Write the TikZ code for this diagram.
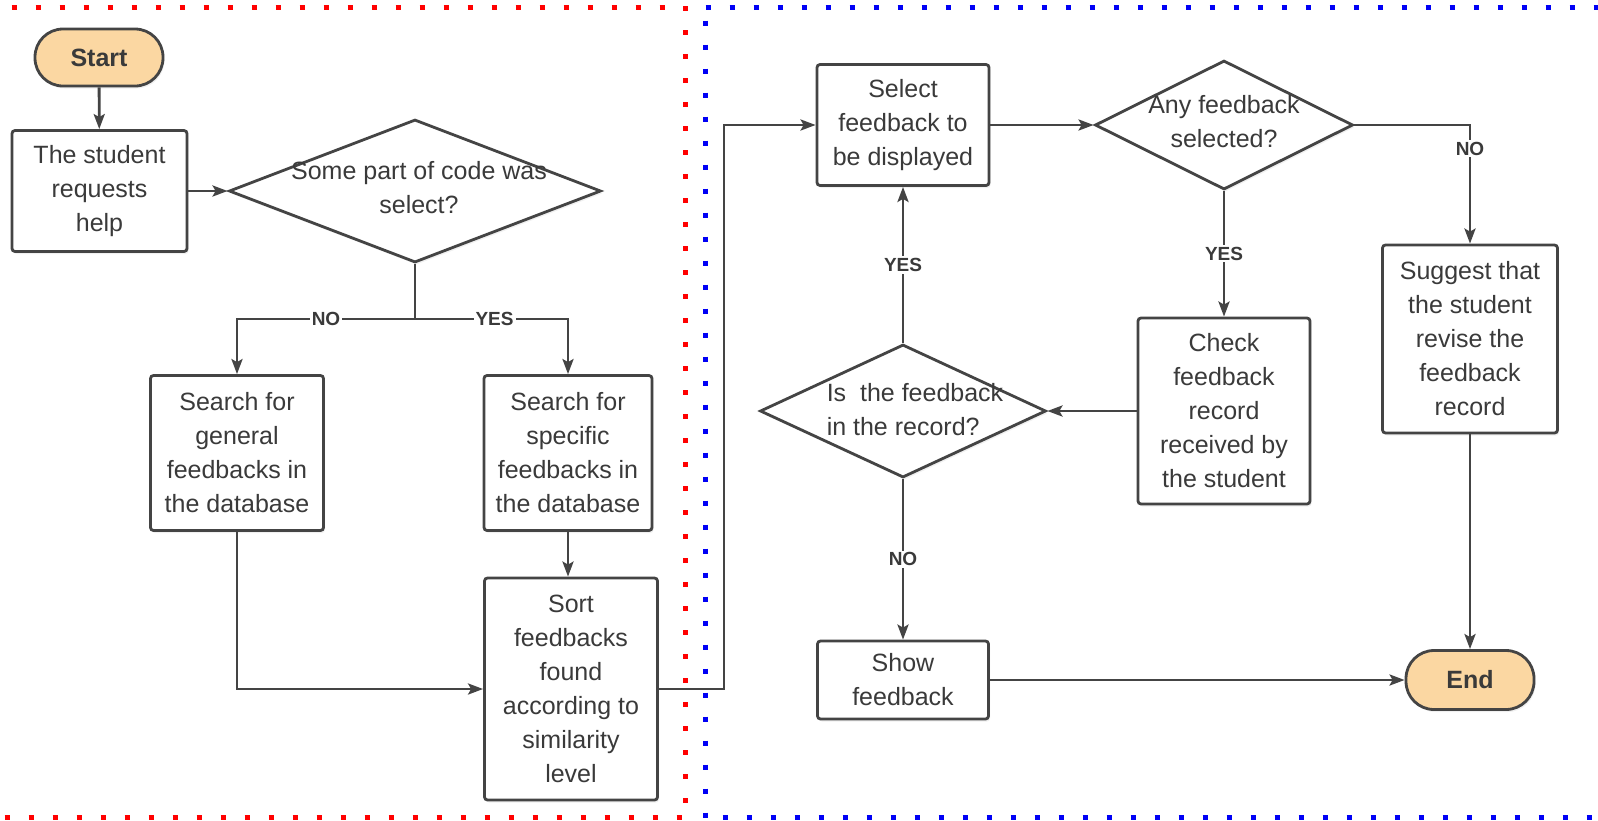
\documentclass[tikz,border=0pt]{standalone}
\usepackage{fontspec}
\setmainfont{Liberation Sans}
\usetikzlibrary{arrows.meta,shapes.geometric,shadows}

\definecolor{ink}{HTML}{3A3A3A}
\definecolor{edge}{HTML}{444444}
\definecolor{termfill}{HTML}{FBD7A2}
\definecolor{dotred}{HTML}{FF0000}
\definecolor{dotblue}{HTML}{0000F5}

\tikzset{
  base/.style={draw=edge, line width=2.8pt, text=ink,
    font=\fontsize{25}{34}\selectfont, align=center, inner sep=0pt,
    drop shadow={shadow xshift=1.5pt, shadow yshift=-2.5pt, opacity=0.12}},
  procbox/.style={base, fill=white, rectangle, rounded corners=3pt},
  termbox/.style={base, fill=termfill, rectangle, rounded corners=28pt,
    font=\fontsize{25}{30}\selectfont\bfseries},
  decision/.style={base, fill=white, diamond},
  dtext/.style={text=ink, font=\fontsize{25}{34}\selectfont, inner sep=0pt},
  flow/.style={draw=edge, line width=2.8pt,
    -{Stealth[length=15pt, width=11pt, inset=3pt]}},
  plain/.style={draw=edge, line width=2.8pt},
  lbl/.style={fill=white, text=ink, inner sep=2pt,
    font=\fontsize{19}{22}\selectfont\bfseries},
  dotline/.style={line width=5pt, dash pattern=on 5pt off 19pt}
}

\begin{document}
\begin{tikzpicture}[x=1pt, y=-1pt]
\useasboundingbox (0,0) rectangle (1598,820);

% dotted frames of the two regions
\draw[dotline, dotred] (11.5,7) -- (665,7);
\draw[dotline, dotred] (685,6.2) -- (685,805);
\draw[dotline, dotred] (4.5,817.5) -- (682,817.5);
\draw[dotline, dotblue] (705.5,7) -- (1598,7);
\draw[dotline, dotblue] (705,20.5) -- (705,818);
\draw[dotline, dotblue] (722.5,817.5) -- (1598,817.5);

% left region
\node[termbox, minimum width=128pt, minimum height=57pt] (start) at (99,57.5) {Start};
\node[procbox, minimum width=175pt, minimum height=121pt] (student) at (99.5,191)
  {The student\\requests\\help};
\node[decision, minimum width=372pt, minimum height=143pt] (d1) at (415,191) {};
\node[dtext, align=center] (d1t) at (419,188) {Some part of code was\\select?};
\node[procbox, minimum width=173pt, minimum height=155pt] (gen) at (237,453)
  {Search for\\general\\feedbacks in\\the database};
\node[procbox, minimum width=168pt, minimum height=155pt] (spec) at (568,453)
  {Search for\\specific\\feedbacks in\\the database};
\node[procbox, minimum width=173pt, minimum height=222pt] (sort) at (571,689)
  {Sort\\feedbacks\\found\\according to\\similarity\\level};

% right region
\node[procbox, minimum width=172pt, minimum height=121pt] (sel) at (903,125)
  {Select\\feedback to\\be displayed};
\node[decision, minimum width=258pt, minimum height=129pt] (d2) at (1224,125) {};
\node[dtext, align=center] (d2t) at (1224,122) {Any feedback\\selected?};
\node[procbox, minimum width=175pt, minimum height=188pt] (sug) at (1470,339)
  {Suggest that\\the student\\revise the\\feedback\\record};
\node[procbox, minimum width=172pt, minimum height=186pt] (chk) at (1224,411)
  {Check\\feedback\\record\\received by\\the student};
\node[decision, minimum width=286pt, minimum height=133pt] (d3) at (903,411) {};
\node[dtext, align=left] (d3t) at (915,410) {Is\ \ the feedback\\in the record?};
\node[procbox, minimum width=171pt, minimum height=78pt] (show) at (903,680)
  {Show\\feedback};
\node[termbox, minimum width=128pt, minimum height=59pt] (end) at (1470,680) {End};

% connectors
\coordinate (br) at (415,319);
\coordinate (up) at (724,125);

\draw[flow] (start) -- (student);
\draw[flow] (student.east) -- (d1.west);
\draw[plain] (d1.south) -- (br);
\draw[flow] (br) -| node[lbl, pos=0.25] {NO} (gen.north);
\draw[flow] (br) -| node[lbl, pos=0.26] {YES} (spec.north);
\draw[flow] (gen.south) |- (sort.west);
\draw[flow] (spec.south) -- (spec.south |- sort.north);
\draw[flow] (sort.east) -| (up) -- (sel.west);
\draw[flow] (sel.east) -- (d2.west);
\draw[flow] (d2.east) -| node[lbl, pos=0.6] {NO} (sug.north);
\draw[flow] (d2.south) -- node[lbl] {YES} (chk.north);
\draw[flow] (chk.west) -- (d3.east);
\draw[flow] (d3.north) -- node[lbl] {YES} (sel.south);
\draw[flow] (d3.south) -- node[lbl] {NO} (show.north);
\draw[flow] (show.east) -- (end.west);
\draw[flow] (sug.south) -- (end.north);
\end{tikzpicture}
\end{document}
